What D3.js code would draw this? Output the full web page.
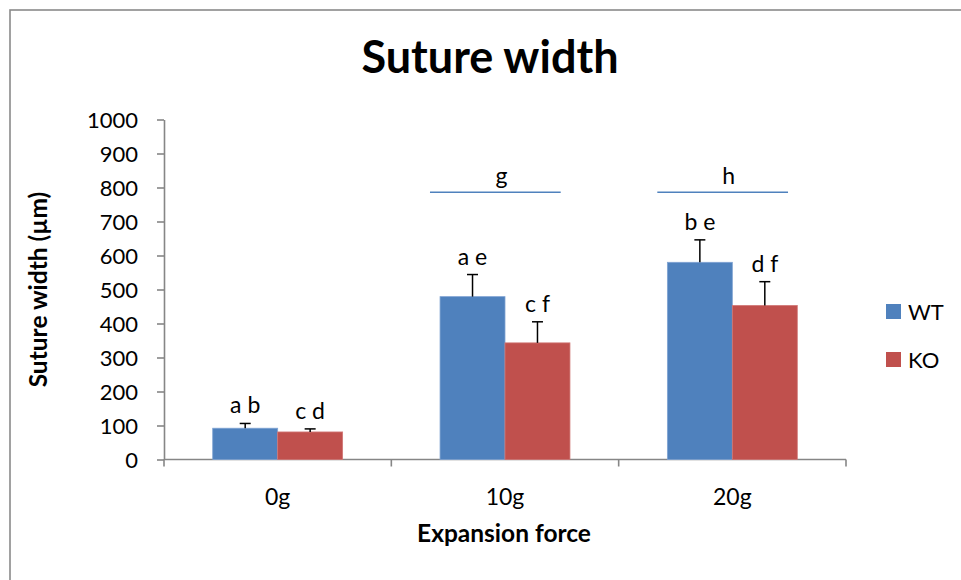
<!DOCTYPE html>
<html>
<head>
<meta charset="utf-8">
<script src="https://cdn.jsdelivr.net/npm/d3@7"></script>
<style>
  html, body { margin: 0; padding: 0; background: #fff; }
  svg { display: block; font-family: Lato, "Open Sans", sans-serif; }
</style>
</head>
<body>
<svg id="chart" width="961" height="580"></svg>
<script>
// Suture width by expansion force, WT vs KO (mean + upper SD)
const categories = ["0g", "10g", "20g"];
const seriesNames = ["WT", "KO"];
const wtValues = [92, 479, 580];
const koValues = [81, 343, 453];
const wtErrors = [14, 65, 66];
const koErrors = [9, 62, 70];
const wtLetters = ["a b", "a e", "b e"];
const koLetters = ["c d", "c f", "d f"];
const yTicks = [0, 100, 200, 300, 400, 500, 600, 700, 800, 900, 1000];
// group-level comparison bars drawn above the 10g and 20g groups
const groupMarks = [
  { category: "10g", label: "g", value: 786 },
  { category: "20g", label: "h", value: 786 }
];

const colors = { WT: "#4F81BD", KO: "#C0504D" };
const edge = { WT: "#7FA3D3", KO: "#D07775" };
const axisColor = "#868686";

const svg = d3.select("#chart");

// outer frame
svg.append("rect")
  .attr("x", 10).attr("y", 10)
  .attr("width", 1000).attr("height", 1000)
  .attr("fill", "none").attr("stroke", "#8a8a8a").attr("stroke-width", 1.6);

const plot = { left: 164, right: 846, top: 119.5, bottom: 459.5 };

const x0 = d3.scaleBand().domain(categories).range([plot.left, plot.right]).paddingInner(0).paddingOuter(0);
const x1 = d3.scaleBand().domain(seriesNames).range([0, x0.bandwidth()]).paddingInner(0).paddingOuter(0.75);
const y = d3.scaleLinear().domain([0, 1000]).range([plot.bottom, plot.top]);

// title
svg.append("text")
  .attr("x", 490).attr("y", 73)
  .attr("text-anchor", "middle")
  .attr("font-weight", "bold").attr("font-size", 45)
  .attr("fill", "#000")
  .text("Suture width");

// y axis
const yAxis = svg.append("g")
  .attr("transform", `translate(${plot.left},0)`)
  .call(d3.axisLeft(y).tickValues(yTicks).tickFormat(d3.format("d"))
    .tickSize(7).tickPadding(19).tickSizeOuter(0));
yAxis.select(".domain").attr("stroke", axisColor).attr("stroke-width", 1.6);
yAxis.selectAll(".tick line").attr("stroke", axisColor).attr("stroke-width", 1.6);
yAxis.selectAll(".tick text")
  .attr("font-family", "Lato, sans-serif").attr("font-size", 22).attr("fill", "#000")
  .attr("dy", "0.36em");

// x axis with tick marks at category boundaries
const xg = svg.append("g").attr("transform", `translate(0,${plot.bottom})`);
xg.append("line")
  .attr("x1", plot.left).attr("x2", plot.right)
  .attr("stroke", axisColor).attr("stroke-width", 1.6);
const boundaries = categories.map(c => x0(c)).concat([x0(categories[categories.length - 1]) + x0.bandwidth()]);
xg.selectAll("line.b").data(boundaries).join("line")
  .attr("class", "b")
  .attr("x1", d => d).attr("x2", d => d)
  .attr("y1", 0).attr("y2", 7)
  .attr("stroke", axisColor).attr("stroke-width", 1.6);
xg.selectAll("text.cat").data(categories).join("text")
  .attr("class", "cat")
  .attr("x", d => x0(d) + x0.bandwidth() / 2)
  .attr("y", 45)
  .attr("text-anchor", "middle")
  .attr("font-size", 23).attr("fill", "#000")
  .text(d => d);

// axis titles
svg.append("text")
  .attr("x", 504).attr("y", 542)
  .attr("text-anchor", "middle")
  .attr("font-weight", "bold").attr("font-size", 24.5)
  .text("Expansion force");
svg.append("text")
  .attr("transform", `translate(47,${(plot.top + plot.bottom) / 2}) rotate(-90)`)
  .attr("text-anchor", "middle")
  .attr("font-weight", "bold").attr("font-size", 24.5)
  .text("Suture width (µm)");

// bars
const rows = categories.map((c, i) => ({
  category: c,
  items: [
    { series: "WT", value: wtValues[i], err: wtErrors[i], letters: wtLetters[i] },
    { series: "KO", value: koValues[i], err: koErrors[i], letters: koLetters[i] }
  ]
}));

const groups = svg.selectAll("g.grp").data(rows).join("g")
  .attr("class", "grp")
  .attr("transform", d => `translate(${x0(d.category)},0)`);

groups.selectAll("rect").data(d => d.items).join("rect")
  .attr("x", d => x1(d.series))
  .attr("y", d => y(d.value))
  .attr("width", x1.bandwidth())
  .attr("height", d => y(0) - y(d.value))
  .attr("fill", d => colors[d.series])
  .attr("stroke", d => edge[d.series]).attr("stroke-width", 0.8);

// upper error bars
const capHalf = 5.5;
groups.selectAll("line.err").data(d => d.items).join("line")
  .attr("class", "err")
  .attr("x1", d => x1(d.series) + x1.bandwidth() / 2)
  .attr("x2", d => x1(d.series) + x1.bandwidth() / 2)
  .attr("y1", d => y(d.value))
  .attr("y2", d => y(d.value + d.err))
  .attr("stroke", "#000").attr("stroke-width", 1.5);
groups.selectAll("line.cap").data(d => d.items).join("line")
  .attr("class", "cap")
  .attr("x1", d => x1(d.series) + x1.bandwidth() / 2 - capHalf)
  .attr("x2", d => x1(d.series) + x1.bandwidth() / 2 + capHalf)
  .attr("y1", d => y(d.value + d.err))
  .attr("y2", d => y(d.value + d.err))
  .attr("stroke", "#000").attr("stroke-width", 1.5);

// significance letters
groups.selectAll("text.sig").data(d => d.items).join("text")
  .attr("class", "sig")
  .attr("x", d => x1(d.series) + x1.bandwidth() / 2)
  .attr("y", d => y(d.value + d.err) - 10)
  .attr("text-anchor", "middle")
  .attr("font-size", 23).attr("fill", "#000")
  .text(d => d.letters);

// group comparison lines
const gm = svg.selectAll("g.gm").data(groupMarks).join("g").attr("class", "gm");
gm.append("line")
  .attr("x1", d => x0(d.category) + x0.bandwidth() * 0.17)
  .attr("x2", d => x0(d.category) + x0.bandwidth() * 0.745)
  .attr("y1", d => y(d.value)).attr("y2", d => y(d.value))
  .attr("stroke", colors.WT).attr("stroke-width", 1.6);
gm.append("text")
  .attr("x", d => x0(d.category) + x0.bandwidth() * 0.484)
  .attr("y", d => y(d.value) - 8)
  .attr("text-anchor", "middle")
  .attr("font-size", 23).attr("fill", "#000")
  .text(d => d.label);

// legend
const legend = svg.append("g").attr("transform", "translate(886,0)");
const legendY = { WT: 304, KO: 352 };
legend.selectAll("rect").data(seriesNames).join("rect")
  .attr("x", 0).attr("y", d => legendY[d])
  .attr("width", 15).attr("height", 15)
  .attr("fill", d => colors[d]);
legend.selectAll("text").data(seriesNames).join("text")
  .attr("x", 22).attr("y", d => legendY[d] + 15.5)
  .attr("font-size", 22).attr("fill", "#000")
  .text(d => d);
</script>
</body>
</html>
